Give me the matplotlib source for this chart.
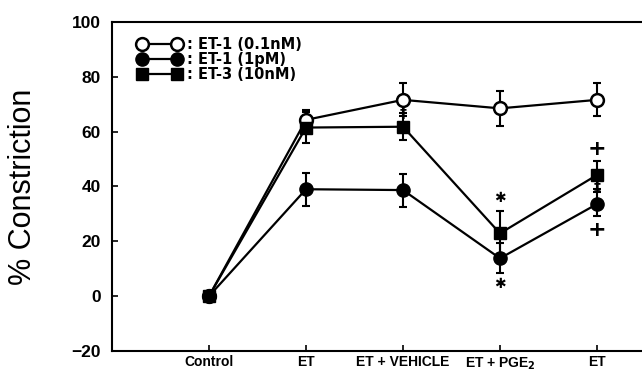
import matplotlib
matplotlib.use("Agg")
import matplotlib.pyplot as plt
import numpy as np

categories = ["Control", "ET", "ET + VEHICLE", "ET + PGE$_\\mathbf{2}$", "ET"]

et1_01nM = [0, 64.3, 71.6, 68.5, 71.6]
et1_01nM_err = [0, 3.5, 6.0, 6.5, 6.0]
et1_1pM = [0, 39.0, 38.7, 13.8, 33.6]
et1_1pM_err = [0, 6.0, 6.0, 5.5, 4.5]
et3_10nM = [0, 61.5, 61.8, 22.9, 44.2]
et3_10nM_err = [0, 5.5, 5.0, 8.0, 5.0]

labels = [": ET-1 (0.1nM)", ": ET-1 (1pM)", ": ET-3 (10nM)"]

# significance symbols: (category index, y value, symbol)
sym_x = [2, 3, 3, 4, 4, 4]
sym_y = [66.9, 35.7, 4.3, 53.7, 39.7, 24.1]
sym_t = ["‡", "✱", "✱", "+", "‡", "+"]
sym_size = [10, 10, 10, 16, 10, 16]

fig = plt.figure(figsize=(6.42, 3.73), dpi=100)
ax = fig.add_axes([112/642, 1-351/373, 1-112/642, (351-22)/373])

x = np.arange(len(categories))
series = [
    (et1_01nM, et1_01nM_err, dict(marker="o", ms=9.2, mfc="white", mec="black", mew=1.8)),
    (et1_1pM, et1_1pM_err, dict(marker="o", ms=9.5, mfc="black", mec="black")),
    (et3_10nM, et3_10nM_err, dict(marker="s", ms=8.6, mfc="black", mec="black")),
]
handles = []
for (vals, errs, st), lab in zip(series, labels):
    ax.errorbar(x, vals, yerr=errs, fmt="none", ecolor="black", elinewidth=1.5,
                capsize=2.6, capthick=1.5, zorder=2)
    h, = ax.plot(x, vals, color="black", lw=1.6, zorder=3, label=lab, **st)
    handles.append(h)

for xi, yi, t, s in zip(sym_x, sym_y, sym_t, sym_size):
    ax.text(xi, yi, t, ha="center", va="center", fontsize=s, fontweight="bold",
            family="DejaVu Sans", zorder=4)

ax.set_xlim(-1.0, 4.464)
ax.set_ylim(-20, 100)
ax.set_yticks([-20, 0, 20, 40, 60, 80, 100])
ax.set_yticklabels(["\u221220", "0", "20", "40", "60", "80", "100"],
                   fontsize=12.5, fontweight="bold", family="Liberation Sans")
ax.set_xticks(x)
ax.set_xticklabels(categories, fontsize=10, fontweight="bold", family="Liberation Sans")
ax.tick_params(axis="y", direction="in", length=4, width=1.2, pad=8)
ax.tick_params(axis="x", direction="in", length=4, width=1.2, pad=3)
ax.spines["right"].set_visible(False)
for s in ["left", "bottom", "top"]:
    ax.spines[s].set_linewidth(1.5)

fig.text(23/642, 0.5, "% Constriction", rotation=90, ha="center", va="center",
         fontsize=22, family="Liberation Sans")

leg = ax.legend(handles=handles, loc="upper left", numpoints=2, frameon=False,
                bbox_to_anchor=(0.049, 0.953), borderaxespad=0, borderpad=0,
                handlelength=3.0, handletextpad=0.35, labelspacing=0.0,
                prop=dict(family="DejaVu Sans", weight="bold", size=10.5))

fig.savefig("out.png", dpi=100)
